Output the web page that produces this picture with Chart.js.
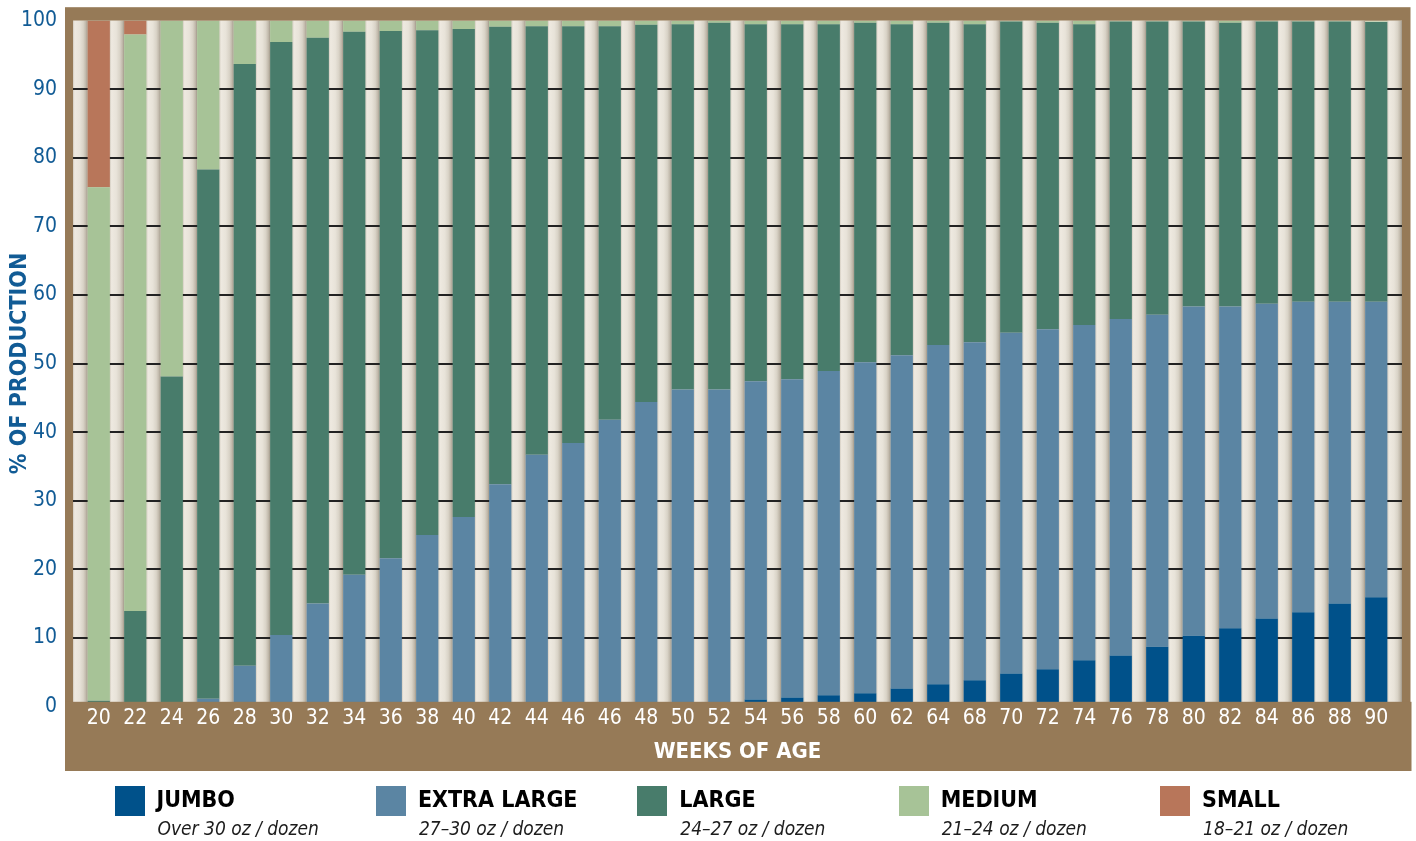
<!DOCTYPE html>
<html>
<head>
<meta charset="utf-8">
<script src="https://cdn.jsdelivr.net/npm/chart.js@4"></script>
<style>
  body { margin: 0; background: #fff; }
  #wrap { position: relative; width: 1416px; height: 841px; }
  #legend { position: absolute; left: 0; top: 786px; width: 1416px; height: 55px; }
  .item { position: absolute; top: 0; }
  .sw { position: absolute; left: 0; top: 0; width: 30px; height: 30px; }
  .name { position: absolute; left: 42px; top: 2px; white-space: nowrap; color: #000;
          font: bold 23px/23px "Liberation Sans Narrow", "DejaVu Sans Condensed", sans-serif; }
  .sub { position: absolute; left: 43px; top: 32px; white-space: nowrap; color: #1c1c1c;
         font: italic 19px/20px "Liberation Sans Narrow", "DejaVu Sans Condensed", sans-serif; }
</style>
</head>
<body>
<div id="wrap">
  <canvas id="chart" width="1416" height="841"></canvas>
  <div id="legend"></div>
</div>
<script>
// --- data ---
const weeks = ['20','22','24','26','28','30','32','34','36','38','40','42','44','46','46','48','50','52',
               '54','56','58','60','62','64','68','70','72','74','76','78','80','82','84','86','88','90'];

const jumbo = [0, 0, 0, 0, 0, 0, 0, 0, 0, 0, 0, 0, 0, 0, 0, 0, 0, 0.5,
               1.0, 1.3, 1.6, 1.9, 2.6, 3.2, 3.8, 4.8, 5.4, 6.7, 7.4, 8.7, 10.3, 11.4, 12.8, 13.7, 15.0, 15.9];
const extraLarge = [0, 0, 0, 1.1, 5.9, 10.4, 15.0, 19.2, 21.6, 25.0, 27.6, 32.4, 36.7, 38.4, 41.8, 44.4, 46.2, 45.7,
                    46.4, 46.4, 47.3, 48.3, 48.6, 49.5, 49.3, 49.7, 49.6, 48.9, 49.1, 48.4, 48.0, 46.9, 45.9, 45.3, 44.0, 43.1];
const large = [0.8, 13.9, 48.1, 77.2, 87.8, 86.5, 82.5, 79.2, 76.9, 73.6, 71.2, 66.7, 62.5, 60.8, 57.4, 55.0, 53.3, 53.5,
               52.1, 51.8, 50.6, 49.5, 48.3, 47.0, 46.4, 45.4, 44.7, 43.9, 43.4, 42.8, 41.6, 41.4, 41.2, 40.9, 40.9, 40.8];
const medium = [74.9, 84.1, 51.9, 21.7, 6.3, 3.1, 2.5, 1.6, 1.5, 1.4, 1.2, 0.9, 0.8, 0.8, 0.8, 0.6, 0.5, 0.3,
                0.5, 0.5, 0.5, 0.3, 0.5, 0.3, 0.5, 0.1, 0.3, 0.5, 0.1, 0.1, 0.1, 0.3, 0.1, 0.1, 0.1, 0.1];
const small = [24.3, 2.0, 0, 0, 0, 0, 0, 0, 0, 0, 0, 0, 0, 0, 0, 0, 0, 0,
               0, 0, 0, 0, 0, 0, 0, 0, 0, 0, 0, 0, 0, 0, 0, 0, 0, 0];

const sizeNames = ['JUMBO', 'EXTRA LARGE', 'LARGE', 'MEDIUM', 'SMALL'];
const sizeWeights = ['Over 30 oz / dozen', '27–30 oz / dozen', '24–27 oz / dozen', '21–24 oz / dozen', '18–21 oz / dozen'];
const sizeColors = ['#00518a', '#5b85a3', '#487c6b', '#a7c397', '#b8765a'];
const yTicks = [0, 10, 20, 30, 40, 50, 60, 70, 80, 90, 100];

const series = [jumbo, extraLarge, large, medium, small];
const BROWN = '#967a57';
const NARROW = '"Liberation Sans Narrow", "DejaVu Sans Condensed", sans-serif';

// frame, pillar stripes and grid lines behind the bars
const framePlugin = {
    id: 'frame',
    beforeDatasetsDraw(chart) {
        const { ctx, chartArea: a, scales: { y } } = chart;
        const bars = chart.getDatasetMeta(0).data;
        const left = a.left - 7.5, right = a.right + 7.5;
        ctx.save();
        ctx.fillStyle = BROWN;
        ctx.fillRect(left - 8, a.top - 13.5, right - left + 16.5, 771 - (a.top - 13.5));
        ctx.fillStyle = '#e7e2d8';
        ctx.fillRect(left, a.top, right - left, a.bottom - a.top);

        // gaps between bars get a cylinder-like shading
        const edges = [left];
        bars.forEach(b => { edges.push(b.x - b.width / 2, b.x + b.width / 2); });
        edges.push(right);
        for (let i = 0; i < edges.length; i += 2) {
            const x0 = edges[i], x1 = edges[i + 1];
            const g = ctx.createLinearGradient(x0, 0, x1, 0);
            g.addColorStop(0, '#d3ccc0');
            g.addColorStop(0.12, '#eee9e0');
            g.addColorStop(0.45, '#e8e3d9');
            g.addColorStop(0.7, '#d9d3c7');
            g.addColorStop(0.88, '#c0b8aa');
            g.addColorStop(1, '#a2998a');
            ctx.fillStyle = g;
            ctx.fillRect(x0, a.top, x1 - x0, a.bottom - a.top);
        }

        ctx.strokeStyle = '#222';
        ctx.lineWidth = 2;
        y.ticks.forEach(t => {
            if (t.value === 0 || t.value === 100) return;
            const py = Math.round(y.getPixelForValue(t.value));
            ctx.beginPath();
            ctx.moveTo(left, py);
            ctx.lineTo(right, py);
            ctx.stroke();
        });
        ctx.restore();
    },
    afterDatasetsDraw(chart) {
        // brown band along the bottom hides the foot of the bars
        const { ctx, chartArea: a } = chart;
        ctx.save();
        ctx.fillStyle = BROWN;
        ctx.fillRect(a.left - 15.5, a.bottom - 4.5, a.right - a.left + 32.5, 771 - (a.bottom - 4.5));
        ctx.restore();
    }
};

new Chart(document.getElementById('chart'), {
    type: 'bar',
    data: {
        labels: weeks,
        datasets: series.map((vals, i) => ({
            label: sizeNames[i],
            data: vals,
            backgroundColor: sizeColors[i],
            borderWidth: 0,
            barPercentage: 0.61,
            categoryPercentage: 1
        }))
    },
    options: {
        responsive: false,
        animation: false,
        devicePixelRatio: 1,
        layout: { padding: { top: 20.7, right: 21.5, bottom: 70, left: 0 } },
        plugins: { legend: { display: false }, tooltip: { enabled: false } },
        scales: {
            x: {
                stacked: true,
                grid: { display: false, drawTicks: false, z: 1 },
                border: { display: false },
                ticks: { z: 1, color: '#fff', font: { family: NARROW, size: 21 }, padding: 0, maxRotation: 0, autoSkip: false },
                title: { display: true, text: 'WEEKS OF AGE', color: '#fff',
                         font: { family: NARROW, size: 22, weight: 'bold' }, padding: { top: 0, bottom: 6 } },
                afterFit: s => { s.height = 64.7; s.paddingLeft = 0; s.paddingRight = 0; }
            },
            y: {
                stacked: true,
                min: 0,
                max: 100,
                afterBuildTicks: s => { s.ticks = yTicks.map(v => ({ value: v })); },
                grid: { display: false, drawTicks: false },
                border: { display: false },
                ticks: { color: '#115b95', font: { family: NARROW, size: 21 }, padding: 23.5 },
                title: { display: true, text: '% OF PRODUCTION', color: '#115b95',
                         font: { family: NARROW, size: 23, weight: 'bold' }, padding: { top: 6, bottom: 0 } },
                afterFit: s => { s.width = 80.5; s.paddingTop = 0; s.paddingBottom = 0; }
            }
        }
    },
    plugins: [framePlugin]
});

// legend with the weight ranges under each name
const legend = document.getElementById('legend');
sizeNames.forEach((name, i) => {
    const item = document.createElement('div');
    item.className = 'item';
    item.style.left = (114.5 + i * 261.4) + 'px';
    item.innerHTML = `<div class="sw" style="background:${sizeColors[i]}"></div>` +
        `<div class="name">${name}</div><div class="sub">${sizeWeights[i]}</div>`;
    legend.appendChild(item);
});
</script>
</body>
</html>
